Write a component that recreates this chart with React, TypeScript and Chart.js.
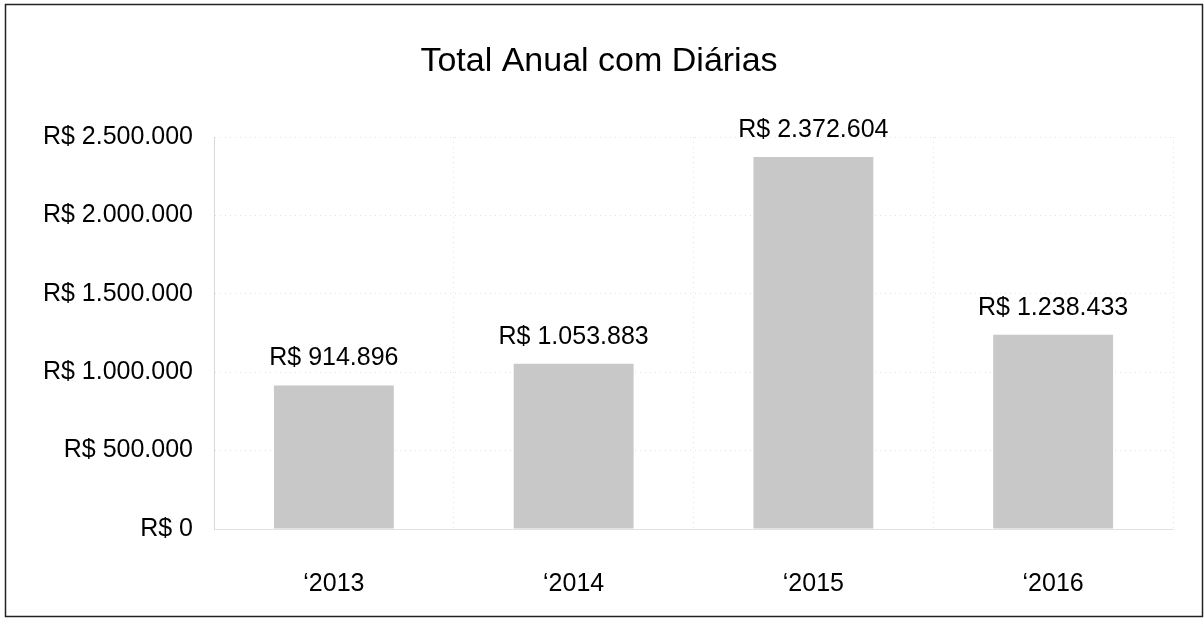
import React, { useEffect, useRef } from "react";
import { Chart, registerables } from "chart.js";

Chart.register(...registerables);

const categories = ["‘2013", "‘2014", "‘2015", "‘2016"];
const values = [914896, 1053883, 2372604, 1238433];
const yTicks = [0, 500000, 1000000, 1500000, 2000000, 2500000];
const title = "Total Anual com Diárias";

const fmt = (v: number) => "R$ " + Math.round(v).toString().replace(/\B(?=(\d{3})+(?!\d))/g, ".");

const FONT = "'Liberation Sans', Arial, sans-serif";

export default function App() {
  const ref = useRef<HTMLCanvasElement | null>(null);
  useEffect(() => {
    if (!ref.current) return;
    const framePlugin = {
      id: "frame",
      afterDraw(chart: any) {
        const ctx = chart.ctx;
        ctx.save();
        ctx.strokeStyle = "#222";
        ctx.lineWidth = 1.5;
        ctx.strokeRect(5.5, 4.5, 1197, 612);
        ctx.fillStyle = "#000";
        ctx.font = `34px ${FONT}`;
        ctx.textAlign = "center";
        ctx.textBaseline = "middle";
        ctx.fillText(title, 599, 62);
        const meta = chart.getDatasetMeta(0);
        ctx.font = `25px ${FONT}`;
        meta.data.forEach((bar: any, i: number) => {
          ctx.fillText(fmt(values[i]), bar.x, bar.y - 27);
        });
        ctx.restore();
      },
    };
    const chart = new Chart(ref.current, {
      type: "bar",
      data: {
        labels: categories,
        datasets: [
          {
            data: values,
            backgroundColor: "#c8c8c8",
            borderWidth: 0,
            barPercentage: 0.5,
            categoryPercentage: 1,
          },
        ],
      },
      options: {
        animation: false,
        responsive: false,
        maintainAspectRatio: false,
        layout: { padding: { top: 137, right: 31, left: 0, bottom: 0 } },
        plugins: { legend: { display: false }, tooltip: { enabled: false }, title: { display: false } },
        scales: {
          x: {
            grid: { color: "#e2e2e2", drawTicks: false, offset: true },
            border: { display: true, color: "#e2e2e2", dash: [1, 4] },
            ticks: { color: "#000", font: { family: FONT, size: 25 }, padding: 40 },
            afterFit(scale: any) {
              scale.height = 89;
            },
          },
          y: {
            min: 0,
            max: 2500000,
            afterBuildTicks(scale: any) {
              scale.ticks = yTicks.map((v) => ({ value: v }));
            },
            grid: { color: "#e2e2e2", drawTicks: false, lineWidth: 1 },
            border: { display: true, color: "#d8d8d8", dash: [1, 4] },
            ticks: {
              color: "#000",
              font: { family: FONT, size: 25 },
              padding: 21,
              callback: (v: any) => fmt(Number(v)),
            },
            afterFit(scale: any) {
              scale.width = 214;
            },
          },
        },
      },
      plugins: [framePlugin],
    });
    return () => chart.destroy();
  }, []);
  return (
    <div style={{ position: "fixed", left: 0, top: 0, width: 1204, height: 618, background: "#fff" }}>
      <canvas ref={ref} width={1204} height={618} style={{ width: 1204, height: 618 }} />
    </div>
  );
}
